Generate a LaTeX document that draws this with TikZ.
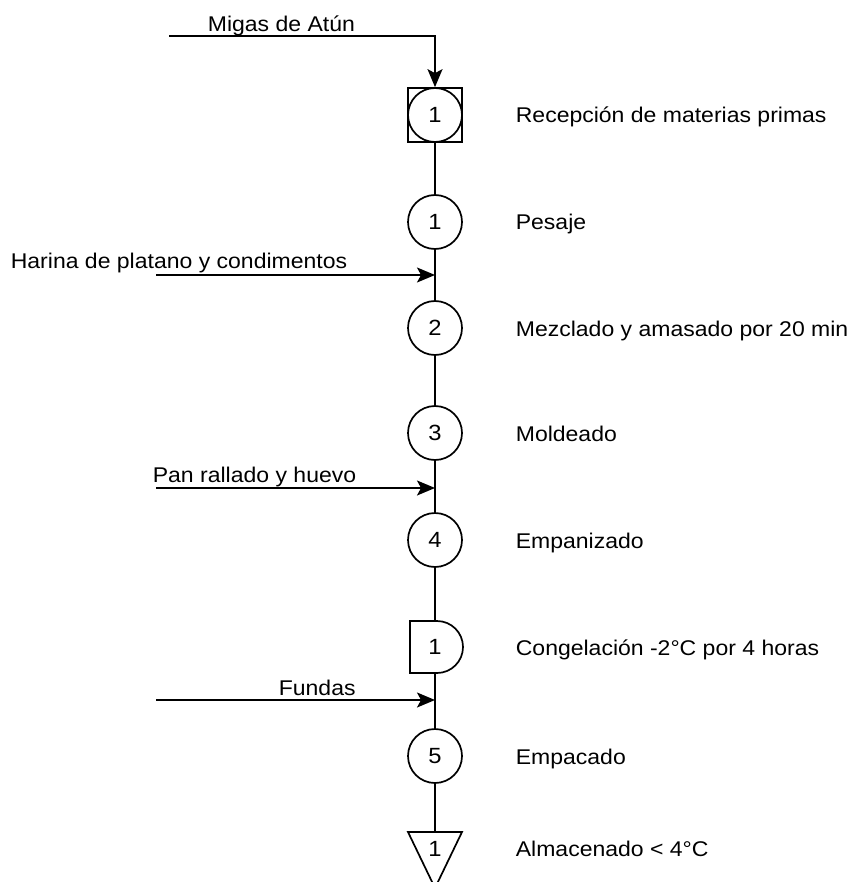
\documentclass[tikz,border=0pt]{standalone}
\usepackage{fontspec}
\setmainfont[FakeStretch=1.08]{Liberation Sans}
\usepackage{tikz}
\usetikzlibrary{arrows.meta, positioning, shapes.misc}

\begin{document}
\begin{tikzpicture}[x=1pt, y=-1pt, line width=1.7pt,
    op/.style={circle, draw, minimum size=54pt, inner sep=0pt, font=\fontsize{22}{24}\selectfont},
    box/.style={rectangle, draw, minimum size=54pt, inner sep=0pt},
    espera/.style={rounded rectangle, rounded rectangle left arc=none, draw,
      minimum width=53pt, minimum height=52pt, inner sep=0pt},
    desc/.style={anchor=base west, inner sep=0pt, font=\fontsize{21.3}{24}\selectfont},
    flecha/.style={-{Stealth[length=18pt, width=15pt, inset=4pt]}}]
    \useasboundingbox (0,0) rectangle (851,882);
    % operaciones
    \node[box] (rec) at (435,115) {};
    \node[op] (rec c) at (435,115) {1};
    \node[op] (pes) at (435,222) {1};
    \node[op] (mez) at (435,328) {2};
    \node[op] (mol) at (435,433) {3};
    \node[op] (emp) at (435,540) {4};
    \node[espera] (con) at (436.5,647) {};
    \node[font=\fontsize{22}{24}\selectfont] (con n) at (435,647) {1};
    \node[op] (pac) at (435,756) {5};
    \coordinate (alm t) at (435,832);
    \draw (408,832) -- (462,832) -- (435,888) -- cycle;
    \node[font=\fontsize{22}{24}\selectfont] (alm) at (435,849) {1};
    % linea principal
    \draw (rec) -- (pes) -- (mez) -- (mol) -- (emp) -- (con.north west -| emp.south);
    \draw (con.south west -| emp.south) -- (pac) -- (alm t);
    % entradas
    \coordinate (e0) at (169,36);
    \coordinate (e1) at (156,275);
    \coordinate (e2) at (156,488);
    \coordinate (e3) at (156,700);
    \draw[flecha] (e0) -| (rec.north);
    \draw[flecha] (e1) -- (e1 -| pes.south);
    \draw[flecha] (e2) -- (e2 -| mol.south);
    \draw[flecha] (e3) -- (e3 -| pac.north);
    \node[desc] (l0) at (207,32) {Migas de Atún};
    \node[desc] (l1) at (10,269) {Harina de platano y condimentos};
    \node[desc] (l2) at (152,482) {Pan rallado y huevo};
    \node[desc] (l3) at (278,695) {Fundas};
    % descripciones
    \node[desc] (d0) at (515,123) {Recepción de materias primas};
    \node[desc] (d1) at (515,230) {Pesaje};
    \node[desc] (d2) at (515,336) {Mezclado y amasado por 20 min};
    \node[desc] (d3) at (515,441) {Moldeado};
    \node[desc] (d4) at (515,548) {Empanizado};
    \node[desc] (d5) at (515,655) {Congelación -2°C por 4 horas};
    \node[desc] (d6) at (515,764) {Empacado};
    \node[desc] (d7) at (515,856) {Almacenado < 4°C};
\end{tikzpicture}
\end{document}
